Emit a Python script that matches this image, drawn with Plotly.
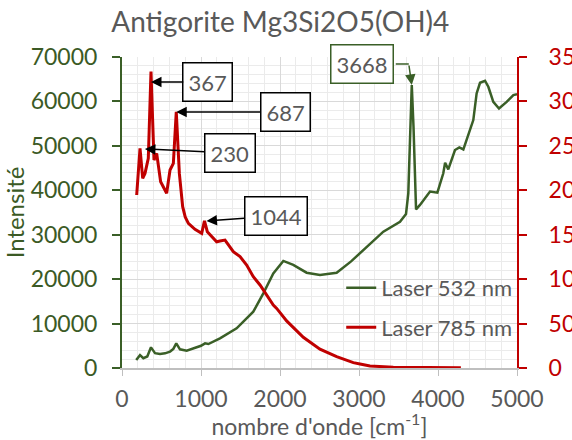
import plotly.graph_objects as go

# Raman spectrum of antigorite, two excitation lasers
wn_532 = [180, 228, 270, 320, 367, 418, 481, 544, 608, 650, 687, 734, 819, 945, 1000,
          1051, 1093, 1240, 1451, 1662, 1789, 1915, 2042, 2168, 2337, 2506, 2717, 2900,
          3097, 3308, 3519, 3595, 3624, 3668, 3690, 3722, 3772, 3850, 3899, 3992, 4067,
          4090, 4130, 4215, 4270, 4321, 4363, 4447, 4489, 4532, 4595, 4637, 4700, 4772,
          4869, 4954, 5000]
int_532 = [1800, 2900, 2200, 2600, 4650, 3350, 3150, 3300, 3700, 4300, 5550, 4200, 3900,
           4570, 5000, 5550, 5400, 6670, 8920, 12680, 16800, 21300, 24100, 23200, 21450,
           20930, 21450, 24000, 27300, 30680, 32930, 34660, 39320, 63700, 54300, 35700,
           36700, 38500, 39700, 39470, 43820, 46200, 44700, 49070, 49670, 49200, 51300,
           55800, 61800, 64200, 64650, 63300, 59900, 58400, 59900, 61440, 61600]

wn_785 = [186, 228, 262, 291, 333, 367, 405, 439, 489, 565, 608, 650, 687, 726, 768, 800,
          840, 924, 1009, 1044, 1080, 1198, 1240, 1304, 1409, 1494, 1578, 1662, 1747, 1789,
          1915, 1958, 2084, 2295, 2506, 2717, 2928, 3013, 3139, 3434, 3800, 4290]
int_785 = [1947, 2472, 2135, 2190, 2359, 3335, 2340, 2415, 2097, 1966, 2228, 2303, 2884,
           2190, 1815, 1700, 1628, 1560, 1515, 1657, 1534, 1421, 1430, 1440, 1309, 1253,
           1159, 1028, 934, 878, 709, 671, 530, 345, 212, 127, 60, 45, 23, 8, 5, 4]

GREEN = "#3A5F27"
GREEN_TXT = "#3B5A25"
RED = "#C00000"
GREY = "#595959"
FONT = "Lato"

fig = go.Figure()
fig.add_trace(go.Scatter(x=wn_532, y=int_532, mode="lines", name="Laser 532 nm",
                         line=dict(color=GREEN, width=2.5), legendgroup="a"))
fig.add_trace(go.Scatter(x=wn_785, y=int_785, mode="lines", name="Laser 785 nm",
                         line=dict(color=RED, width=3), yaxis="y2", legendgroup="b"))

# peak labels on the 785 nm spectrum: (tip x, tip y, text, box offset x, box offset y)
peaks_785 = [
    (367, 3219, "367", 57, 0),
    (687, 2881, "687", 109, 0),
    (290, 2465, "230", 85, 4),
    (1070, 1654, "1044", 69, -5),
]
for px, py, txt, ax, ay in peaks_785:
    fig.add_annotation(x=px, y=py, xref="x", yref="y2", text=txt, showarrow=True,
                       ax=ax, ay=ay, arrowhead=2, arrowsize=1.4, arrowwidth=1.5,
                       arrowcolor="black", bordercolor="black", borderwidth=1.5,
                       borderpad=5, bgcolor="white",
                       font=dict(family=FONT, size=22, color=GREY))

# 3668 label on the 532 nm spectrum with an elbow connector
fig.add_annotation(x=3668, y=63700, xref="x", yref="y", text="3668", showarrow=False,
                   xshift=-50, yshift=21, bordercolor=GREEN, borderwidth=1.5,
                   borderpad=5, bgcolor="white",
                   font=dict(family=FONT, size=22, color=GREY))
fig.add_annotation(x=3668, y=63700, xref="x", yref="y", text="", showarrow=True,
                   ax=-3, ay=-21, arrowhead=2, arrowsize=1.4, arrowwidth=1.5,
                   arrowcolor=GREEN)
fig.add_shape(type="path", xref="x", yref="y", xsizemode="pixel", ysizemode="pixel",
              xanchor=3668, yanchor=63700, path="M-16,21 L-3,21",
              line=dict(color=GREEN, width=1.5))

fig.update_layout(
    width=572, height=440,
    margin=dict(l=122, r=55, t=57, b=72, autoexpand=False),
    paper_bgcolor="white", plot_bgcolor="white",
    font=dict(family=FONT, color=GREY),
    title=dict(text="Antigorite Mg3Si2O5(OH)4", x=0.49, xanchor="center",
               y=0.95, yanchor="middle", font=dict(family=FONT, size=28, color=GREY)),
    showlegend=True,
    legend=dict(x=0.555, y=0.325, xanchor="left", yanchor="top",
                bgcolor="rgba(0,0,0,0)", tracegroupgap=8,
                font=dict(family=FONT, size=22, color=GREY)),
    xaxis=dict(range=[0, 5000], dtick=1000, tick0=0, automargin=False,
               showline=True, linecolor="#BFBFBF", linewidth=1.5,
               ticks="outside", ticklen=6, tickcolor="#BFBFBF",
               ticklabelstandoff=4, tickformat="d",
               tickfont=dict(family=FONT, size=23, color=GREY),
               showgrid=True, gridcolor="#D9D9D9", gridwidth=1,
               minor=dict(dtick=200, showgrid=True, gridcolor="#EBEBEB", gridwidth=1),
               zeroline=False,
               title=dict(text="nombre d'onde [cm<sup>-1</sup>]", standoff=0,
                          font=dict(family=FONT, size=23, color=GREY))),
    yaxis=dict(range=[0, 70000], dtick=10000, tick0=0, automargin=False,
               showline=True, linecolor=GREEN, linewidth=2,
               ticks="outside", ticklen=8, tickcolor=GREEN, tickwidth=2,
               ticklabelstandoff=10, tickformat="d",
               tickfont=dict(family=FONT, size=23, color=GREEN_TXT),
               showgrid=True, gridcolor="#D9D9D9", gridwidth=1,
               minor=dict(dtick=2000, showgrid=True, gridcolor="#EBEBEB", gridwidth=1),
               zeroline=False,
               title=dict(text="Intensité", standoff=4,
                          font=dict(family=FONT, size=24, color=GREEN_TXT))),
    yaxis2=dict(range=[0, 3500], dtick=500, tick0=0, overlaying="y", side="right",
                automargin=False, tickformat="d",
                showline=True, linecolor=RED, linewidth=2,
                ticks="outside", ticklen=8, tickcolor=RED, tickwidth=2,
                ticklabelstandoff=17,
                tickfont=dict(family=FONT, size=23, color=RED),
                showgrid=False, zeroline=False),
)

fig.write_html("out.html")
